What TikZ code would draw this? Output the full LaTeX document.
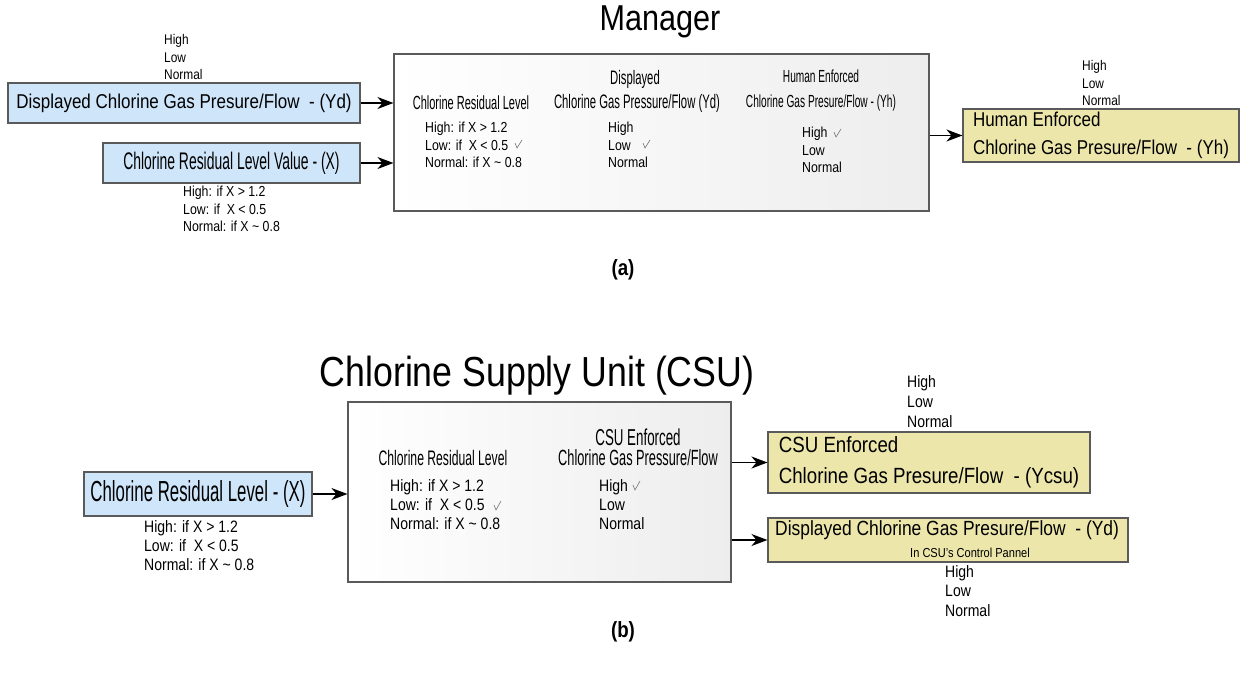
\documentclass[tikz,border=0pt]{standalone}
\usepackage{fontspec}
\setmainfont{Liberation Sans}[FakeStretch=0.85]
\newfontfamily\cond{Liberation Sans}[FakeStretch=0.58]
\usetikzlibrary{arrows.meta}
\definecolor{bluefill}{RGB}{207,229,250}
\definecolor{yelfill}{RGB}{236,230,170}
\definecolor{edgecol}{RGB}{90,90,90}
\newcommand{\fs}[2]{\fontsize{#1}{#2}\selectfont}
\begin{document}
\begin{tikzpicture}[x=1pt,y=-1pt,
 box/.style={draw=edgecol, line width=1.1pt, inner sep=0pt},
 bluebox/.style={box, fill=bluefill},
 yelbox/.style={box, fill=yelfill},
 panel/.style={draw=edgecol, line width=1.1pt, left color=white, right color=black!7, inner sep=0pt},
 lbl/.style={inner sep=0pt, align=left, anchor=west},
 ctr/.style={inner sep=0pt, align=center},
 arr/.style={-{Stealth[length=16pt,width=12pt,inset=5pt]}, line width=1.3pt, black},
 tick/.style={draw=black!55, line width=0.6pt}
]
\useasboundingbox (0,0) rectangle (1240,675);

% ---------------- (a) ----------------
\node[ctr, font=\fs{36}{40}] (tman) at (660,22) {Manager};

\node[lbl, font=\fs{14}{17.5}] (hla) at (164,57) {High\\Low\\Normal};
\node[bluebox, minimum width=352pt, minimum height=40pt, font=\fs{20}{24}] (yd) at (184,103)
  {Displayed Chlorine Gas Presure/Flow\ \ - (Yd)};
\node[bluebox, minimum width=257pt, minimum height=40pt, font=\cond\fs{24}{28}] (xa) at (231.5,163)
  {Chlorine Residual Level Value - (X)};
\node[lbl, font=\fs{14.5}{17.5}] (lxa) at (183,209) {High: if X > 1.2\\Low: if\ \ X < 0.5\\Normal: if X \textasciitilde\ 0.8};

\node[panel, minimum width=535pt, minimum height=157pt] (mgr) at (661.5,132.5) {};
\node[ctr, font=\cond\fs{19}{22}] (m1) at (471,103) {Chlorine Residual Level};
\node[ctr, font=\cond\fs{19.5}{24}] (m2) at (635,79) {Displayed};
\node[ctr, font=\cond\fs{19.5}{24}] (m3) at (637,103) {Chlorine Gas Pressure/Flow (Yd)};
\node[ctr, font=\cond\fs{17.5}{22}] (m6) at (821,76) {Human Enforced};
\node[ctr, font=\cond\fs{17.5}{22}] (m7) at (821,103) {Chlorine Gas Presure/Flow\ - (Yh)};
\node[lbl, font=\fs{14.5}{17.5}] (m4) at (425,145) {High: if X > 1.2\\Low: if\ \ X < 0.5\\Normal: if X \textasciitilde\ 0.8};
\node[lbl, font=\fs{14.5}{17.5}] (m5) at (608,145) {High\\Low\\Normal};
\node[lbl, font=\fs{14.5}{17.5}] (m8) at (802,150) {High\\Low\\Normal};
\draw[tick] (515,143) -- (517,148) -- (522,140);
\draw[tick] (643,143) -- (645,148) -- (650,140);
\draw[tick] (834,132) -- (836,137) -- (841,129);

\node[yelbox, minimum width=276pt, minimum height=53pt, align=left,
  font=\fs{20}{28}] (yh) at (1101,135.5) {Human Enforced\\Chlorine Gas Presure/Flow\ \ - (Yh)};
\node[lbl, font=\fs{14}{17.5}] (hlb) at (1082,83) {High\\Low\\Normal};

\draw[arr] (yd.east) -- (yd.east -| mgr.west);
\draw[arr] (xa.east) -- (xa.east -| mgr.west);
\draw[arr] (mgr.east |- yh.west) -- (yh.west);

\node[ctr, font=\bfseries\fs{22}{26}] (capa) at (623,270) {(a)};

% ---------------- (b) ----------------
\node[ctr, font=\fs{42}{46}] (tcsu) at (537,376) {Chlorine Supply Unit (CSU)};

\node[bluebox, minimum width=228pt, minimum height=44pt, font=\cond\fs{29}{32}] (xb) at (198,494)
  {Chlorine Residual Level - (X)};
\node[lbl, font=\fs{16.5}{19}] (lxb) at (144,546) {High: if X > 1.2\\Low: if\ \ X < 0.5\\Normal: if X \textasciitilde\ 0.8};

\node[panel, minimum width=383pt, minimum height=180pt] (csu) at (539.5,492) {};
\node[ctr, font=\cond\fs{21}{24}] (c1) at (443,458) {Chlorine Residual Level};
\node[ctr, font=\cond\fs{23}{26}] (c2) at (638,437) {CSU Enforced};
\node[ctr, font=\cond\fs{22}{26}] (c3) at (638,458) {Chlorine Gas Pressure/Flow};
\node[lbl, font=\fs{16.5}{19}] (c4) at (390,505) {High: if X > 1.2\\Low: if\ \ X < 0.5\\Normal: if X \textasciitilde\ 0.8};
\node[lbl, font=\fs{16.5}{19}] (c5) at (599,505) {High\\Low\\Normal};
\draw[tick] (494,505) -- (496,510) -- (501,501);
\draw[tick] (633,485) -- (635,490) -- (640,481);

\node[yelbox, minimum width=322pt, minimum height=61pt, align=left,
  font=\fs{22}{31}] (ycsu) at (929,462.5) {CSU Enforced\\Chlorine Gas Presure/Flow\ \ - (Ycsu)};
\node[lbl, font=\fs{16.5}{20}] (hlc) at (907,402) {High\\Low\\Normal};

\node[yelbox, minimum width=360pt, minimum height=44pt] (yd2) at (948,540) {};
\node[lbl, font=\fs{20.5}{24}] (yd2t) at (775,530) {Displayed Chlorine Gas Presure/Flow\ \ - (Yd)};
\node[ctr, font=\fs{13}{15}] (yd2n) at (970,553) {In CSU's Control Pannel};
\node[lbl, font=\fs{16.5}{19.5}] (hld) at (945,591) {High\\Low\\Normal};

\draw[arr] (xb.east) -- (xb.east -| csu.west);
\draw[arr] (csu.east |- ycsu.west) -- (ycsu.west);
\draw[arr] (csu.east |- yd2.west) -- (yd2.west);

\node[ctr, font=\bfseries\fs{22}{26}] (capb) at (623,632) {(b)};
\end{tikzpicture}
\end{document}
